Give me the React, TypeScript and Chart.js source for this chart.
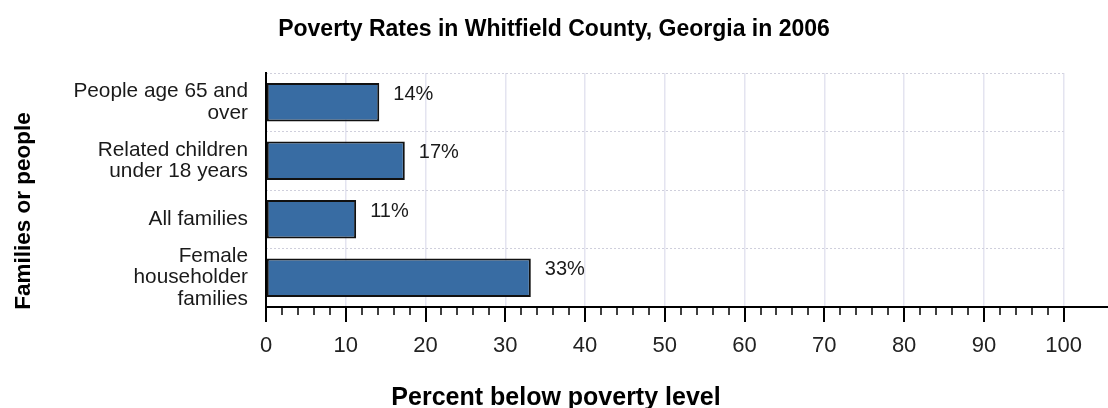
import React, { useEffect, useRef } from "react";
import { Chart, registerables } from "chart.js";

Chart.register(...registerables);

const TITLE = "Poverty Rates in Whitfield County, Georgia in 2006";
const X_TITLE = "Percent below poverty level";
const Y_TITLE = "Families or people";
const categories: string[][] = [
  ["People age 65 and", "over"],
  ["Related children", "under 18 years"],
  ["All families"],
  ["Female", "householder", "families"],
];
const values: number[] = [14.2, 17.4, 11.3, 33.2];
const valueLabels: string[] = ["14%", "17%", "11%", "33%"];
const X_MIN = 0;
const X_MAX = 100;
const MINOR_STEP = 2;
const MAJOR_STEP = 10;

const FONT = '"Liberation Sans", Arial, sans-serif';

const decorPlugin = {
  id: "decor",
  afterDatasetsDraw(chart: any) {
    const ctx = chart.ctx;
    const meta = chart.getDatasetMeta(0);
    ctx.save();
    ctx.fillStyle = "#1a1a1a";
    ctx.font = `20px ${FONT}`;
    ctx.textAlign = "left";
    ctx.textBaseline = "middle";
    meta.data.forEach((bar: any, i: number) => {
      ctx.fillText(valueLabels[i], bar.x + 14, bar.y - 8);
    });
    ctx.restore();
  },
  afterDraw(chart: any) {
    const ctx = chart.ctx;
    const area = chart.chartArea;
    const xs = chart.scales.x;
    const W = chart.width;
    ctx.save();
    // axis lines
    ctx.strokeStyle = "#000";
    ctx.lineWidth = 2;
    ctx.beginPath();
    ctx.moveTo(area.left - 1, area.bottom);
    ctx.lineTo(W, area.bottom);
    ctx.moveTo(area.left, area.top - 1);
    ctx.lineTo(area.left, area.bottom);
    ctx.stroke();
    // ticks
    for (let v = X_MIN; v <= X_MAX; v += MINOR_STEP) {
      const x = Math.round(xs.getPixelForValue(v));
      const major = v % MAJOR_STEP === 0;
      ctx.lineWidth = major ? 2 : 1.5;
      ctx.beginPath();
      ctx.moveTo(x, area.bottom);
      ctx.lineTo(x, area.bottom + (major ? 15 : 8));
      ctx.stroke();
    }
    // titles
    ctx.fillStyle = "#000";
    ctx.textAlign = "center";
    ctx.textBaseline = "alphabetic";
    ctx.font = `bold 23px ${FONT}`;
    ctx.fillText(TITLE, W / 2, 36);
    ctx.font = `bold 25px ${FONT}`;
    ctx.fillText(X_TITLE, W / 2 + 2, 405);
    ctx.save();
    ctx.translate(30, 211);
    ctx.rotate(-Math.PI / 2);
    ctx.font = `bold 22.5px ${FONT}`;
    ctx.fillText(Y_TITLE, 0, 0);
    ctx.restore();
    ctx.restore();
  },
};

export default function App() {
  const canvasRef = useRef<HTMLCanvasElement | null>(null);

  useEffect(() => {
    const canvas = canvasRef.current;
    if (!canvas) return;
    const chart = new Chart(canvas, {
      type: "bar",
      data: {
        labels: categories,
        datasets: [
          {
            data: values,
            backgroundColor: "#386ca3",
            borderColor: "#111",
            borderWidth: 2,
            borderSkipped: false,
            barPercentage: 0.66,
            categoryPercentage: 1,
          },
        ],
      },
      options: {
        indexAxis: "y",
        responsive: false,
        animation: false,
        devicePixelRatio: 1,
        layout: { padding: { top: 73, right: 40, left: 0, bottom: 0 } },
        plugins: {
          legend: { display: false },
          title: { display: false },
          tooltip: { enabled: false },
        },
        scales: {
          x: {
            type: "linear",
            min: X_MIN,
            max: X_MAX,
            afterFit: (s: any) => {
              s.height = 101;
            },
            border: { display: false },
            grid: {
              drawTicks: false,
              color: (c: any) =>
                c.tick && c.tick.value % MAJOR_STEP === 0 ? "#e4e4f0" : "rgba(0,0,0,0)",
              lineWidth: 1.5,
            },
            ticks: {
              stepSize: MINOR_STEP,
              autoSkip: false,
              maxRotation: 0,
              padding: 26,
              color: "#222",
              font: { family: FONT, size: 22 },
              callback: (v: any) => (Number(v) % MAJOR_STEP === 0 ? String(v) : ""),
            },
          },
          y: {
            type: "category",
            afterFit: (s: any) => {
              s.width = 266;
            },
            border: { display: false, dash: [2, 2] },
            grid: {
              drawTicks: false,
              offset: true,
              color: "#cfcfdc",
              lineWidth: 1,
            },
            ticks: {
              autoSkip: false,
              padding: 18,
              color: "#1a1a1a",
              font: { family: FONT, size: 20.8, lineHeight: 1.04 },
            },
          },
        },
      },
      plugins: [decorPlugin],
    } as any);
    return () => chart.destroy();
  }, []);

  return (
    <div style={{ position: "absolute", left: 0, top: 0, width: 1108, height: 408, background: "#fff" }}>
      <canvas ref={canvasRef} width={1108} height={408} style={{ display: "block" }} />
    </div>
  );
}
